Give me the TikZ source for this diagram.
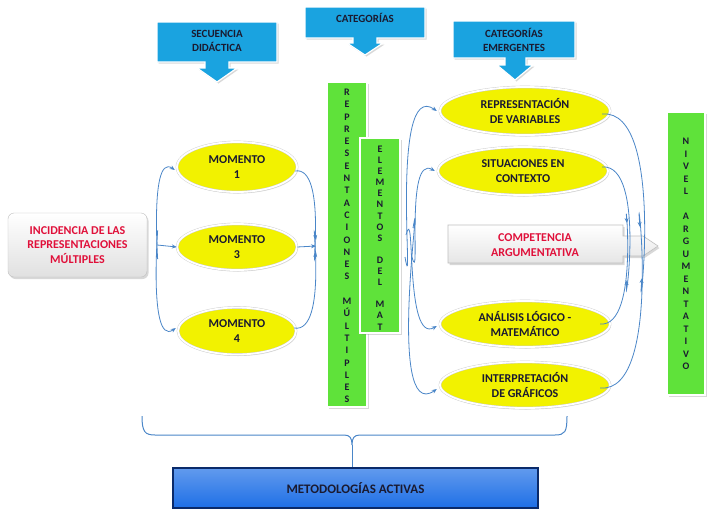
\documentclass[tikz,border=0pt]{standalone}
\usepackage{fontspec}
\setmainfont{Carlito}
\usetikzlibrary{shadows,arrows.meta,shapes.geometric}
\definecolor{cyanbox}{HTML}{1AA3E0}
\definecolor{ylw}{HTML}{F2F200}
\definecolor{grn}{HTML}{5FE23A}
\definecolor{bluebar}{HTML}{1E6FE6}
\definecolor{arr}{HTML}{4A86C8}
\definecolor{redtxt}{HTML}{E0103A}
\definecolor{navy}{HTML}{0A2A6A}
\definecolor{dtxt}{HTML}{1A1A30}
\tikzset{
  lbl/.style={font=\bfseries\fontsize{12}{14.5}\selectfont, align=center, text=dtxt},
  clbl/.style={font=\bfseries\fontsize{11}{14}\selectfont, align=center, text=dtxt},
  ell/.style={ellipse, fill=ylw, draw=black!20, double=white, double distance=1.8pt,
    drop shadow={opacity=.25, shadow xshift=1pt, shadow yshift=-1.5pt}, inner sep=0pt},
  callout/.style={fill=cyanbox, draw=white, line width=1.2pt,
    drop shadow={opacity=.3, shadow xshift=1.5pt, shadow yshift=-1.5pt}},
  gbar/.style={fill=grn, draw=white, line width=1.5pt,
    drop shadow={opacity=.3, shadow xshift=1.5pt, shadow yshift=-1.5pt}},
  vtxt/.style={font=\bfseries\fontsize{10}{#1}\selectfont, align=center, text=dtxt},
  con/.style={draw=arr, line width=0.8pt, -{Stealth[length=5pt,width=4pt]}},
}
\begin{document}
\begin{tikzpicture}[x=1pt,y=-1pt]
\useasboundingbox (0,0) rectangle (712,512);
\fill[white] (0,0) rectangle (712,512);

% callouts
\path[callout] (157,22) -- (277,22) -- (277,62) -- (229,62) -- (229,68) -- (237,68) -- (217,82) -- (197,68) -- (205,68) -- (205,62) -- (157,62) -- cycle;
\node[clbl] (sec) at (217,41) {SECUENCIA\\DIDÁCTICA};
\path[callout] (305,7) -- (425,7) -- (425,38) -- (377,38) -- (377,43) -- (383,43) -- (365,55) -- (347,43) -- (353,43) -- (353,38) -- (305,38) -- cycle;
\node[clbl] (cat) at (365,18) {CATEGORÍAS};
\path[callout] (453,21) -- (575,21) -- (575,58) -- (526,58) -- (526,65) -- (533,65) -- (515,80) -- (497,65) -- (505,65) -- (505,58) -- (453,58) -- cycle;
\node[clbl] (emer) at (514,40) {CATEGORÍAS\\EMERGENTES};

% left box
\node[lbl, text=redtxt, draw=black!25, rounded corners=6pt, top color=white, bottom color=black!12,
  minimum width=139pt, minimum height=64pt, drop shadow={opacity=.3, shadow xshift=1.5pt, shadow yshift=-2pt}]
  (inc) at (77.5,245) {INCIDENCIA DE LAS\\REPRESENTACIONES\\MÚLTIPLES};

% moments
\node[ell, lbl, minimum width=120pt, minimum height=50pt] (m1) at (237,167) {MOMENTO\\1};
\node[ell, lbl, minimum width=120pt, minimum height=46pt] (m3) at (237,247) {MOMENTO\\3};
\node[ell, lbl, minimum width=118pt, minimum height=47pt] (m4) at (237,331) {MOMENTO\\4};

% green bars
\path[gbar] (327,82) rectangle (367,407);
\node[vtxt=12.3pt] (rm) at (347,246) {R\\E\\P\\R\\E\\S\\E\\N\\T\\A\\C\\I\\O\\N\\E\\S\\ \\M\\Ú\\L\\T\\I\\P\\L\\E\\S};
\path[gbar] (360,138) rectangle (400,333);
\node[vtxt=11.1pt] (em) at (380,238) {E\\L\\E\\M\\E\\N\\T\\O\\S\\ \\D\\E\\L\\ \\M\\A\\T};
\path[gbar] (667,112) rectangle (705,395);
\node[vtxt=12.5pt] (niv) at (686,254) {N\\I\\V\\E\\L\\ \\A\\R\\G\\U\\M\\E\\N\\T\\A\\T\\I\\V\\O};
\coordinate (rmw) at (327,246);
\coordinate (emE) at (400,245);
\coordinate (nivw) at (667,250);

% right ellipses
\node[ell, lbl, minimum width=170pt, minimum height=48pt] (rv) at (525,111) {REPRESENTACIÓN\\DE VARIABLES};
\node[ell, lbl, minimum width=170pt, minimum height=48pt] (sc) at (523,171) {SITUACIONES EN\\CONTEXTO};
\node[ell, lbl, minimum width=170pt, minimum height=46pt] (al) at (525,324) {ANÁLISIS LÓGICO -\\MATEMÁTICO};
\node[ell, lbl, minimum width=170pt, minimum height=46pt] (ig) at (525,385) {INTERPRETACIÓN\\DE GRÁFICOS};

% competencia
\path[top color=white, bottom color=black!10, draw=black!25, line width=0.6pt,
  drop shadow={opacity=.3, shadow xshift=1.5pt, shadow yshift=-2pt}]
  (448,225) -- (623,225) -- (623,236) -- (643,236) -- (658,246) -- (643,256) -- (623,256) -- (623,263) -- (448,263) -- cycle;
\node[lbl, text=redtxt] (comp) at (535,245) {COMPETENCIA\\ARGUMENTATIVA};

% connectors left (angles negated because y axis points down)
\draw[con] ([xshift=10pt,yshift=-9pt]inc.east) to[out=-85,in=145] ([xshift=-2pt,yshift=-3pt]m1.west);
\draw[con] ([xshift=10pt]inc.east) -- (m3.west);
\draw[con] ([xshift=10pt,yshift=9pt]inc.east) to[out=85,in=215] ([xshift=-2pt,yshift=3pt]m4.west);
\draw[con] ([xshift=-2pt,yshift=-4pt]m1.east) to[out=10,in=-100] ([xshift=-11pt,yshift=-6pt]rmw);
\draw[con] (m3.east) -- ([xshift=-11pt]rmw);
\draw[con] ([xshift=-2pt,yshift=3pt]m4.east) to[out=-10,in=100] ([xshift=-11pt,yshift=6pt]rmw);

% connectors middle to right
\draw[con] ([xshift=5pt,yshift=-12pt]emE) to[out=-80,in=145] ([xshift=-3pt]rv.west);
\draw[con] ([xshift=12pt,yshift=-12pt]emE) to[out=-75,in=150] ([xshift=-3pt]sc.west);
\draw[con] ([xshift=6pt,yshift=10pt]emE) to[out=75,in=210] ([xshift=-3pt,yshift=-2pt]al.west);
\draw[con] ([xshift=13pt,yshift=17pt]emE) to[out=80,in=215] ([xshift=-3pt,yshift=-4pt]ig.west);

% connectors to nivel
\draw[con] ([xshift=-8pt,yshift=-3pt]rv.east) to[out=5,in=-95] ([xshift=-25pt,yshift=-28pt]nivw);
\draw[con] ([xshift=-6pt,yshift=4pt]sc.east) to[out=5,in=-95] ([xshift=-40pt,yshift=-30pt]nivw);
\draw[con] ([xshift=-10pt]al.east) to[out=-5,in=95] ([xshift=-40pt,yshift=27pt]nivw);
\draw[con] ([xshift=-10pt,yshift=-3pt]ig.east) to[out=-5,in=95] ([xshift=-27pt,yshift=23pt]nivw);

% bottom box
\node[lbl, font=\bfseries\fontsize{13}{15}\selectfont, text=dtxt, draw=navy, line width=1.2pt,
  top color=bluebar!70!white, bottom color=bluebar, middle color=bluebar!85!white,
  minimum width=365pt, minimum height=40pt] (ma) at (355.5,488) {METODOLOGÍAS ACTIVAS};

% brace
\draw[arr, line width=1pt] (142,416) .. controls (142,432) and (145,435) .. (155,435) -- (344,435)
  .. controls (350,435) and (352,438) .. (352,445)
  .. controls (352,438) and (354,435) .. (360,435) -- (555,435)
  .. controls (565,435) and (567,432) .. (567,416);
\draw[arr, line width=1pt] (352,445) -- (ma.north -| 352,445);
\end{tikzpicture}
\end{document}
